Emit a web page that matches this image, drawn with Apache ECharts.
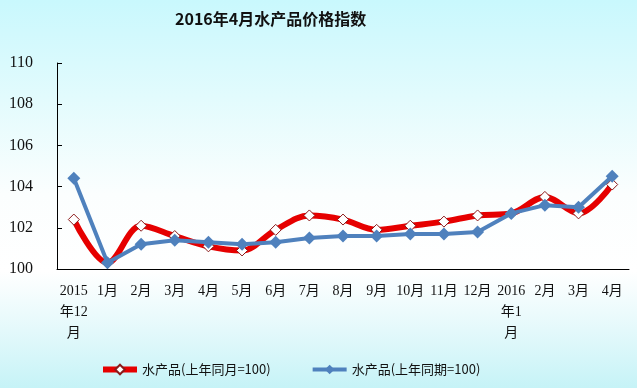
<!DOCTYPE html>
<html><head><meta charset="utf-8">
<script src="https://cdn.jsdelivr.net/npm/echarts@6/dist/echarts.min.js"></script>
<style>html,body{margin:0;padding:0;}#c{width:637px;height:388px;}</style>
</head><body><div id="c"></div>
<script>
var title = '2016年4月水产品价格指数';
var categories = ['2015\n年12\n月','1月','2月','3月','4月','5月','6月','7月','8月','9月','10月','11月','12月','2016\n年1\n月','2月','3月','4月'];
var seriesNames = ['水产品(上年同月=100)','水产品(上年同期=100)'];
var sameMonth = [102.4,100.3,102.1,101.6,101.1,100.9,101.9,102.6,102.4,101.9,102.1,102.3,102.6,102.7,103.5,102.7,104.1];
var samePeriod = [104.4,100.3,101.2,101.4,101.3,101.2,101.3,101.5,101.6,101.6,101.7,101.7,101.8,102.7,103.1,103.0,104.5];
var yTicks = {min:100, max:110, interval:2};

var chart = echarts.init(document.getElementById('c'), null, {renderer:'canvas'});
chart.setOption({
  animation:false,
  backgroundColor:{type:'linear',x:0,y:0,x2:0,y2:1,colorStops:[
    {offset:0,color:'#c9f8fd'},{offset:0.25,color:'#e2fbfd'},{offset:0.5,color:'#fbfefe'},
    {offset:0.7,color:'#ffffff'},{offset:0.85,color:'#e4f9fb'},{offset:1,color:'#c6f3f7'}]},
  title:{text:title,left:170,top:6,textStyle:{fontFamily:'Noto Sans CJK SC',fontWeight:'bold',fontSize:16,color:'#111'}},
  grid:{left:57,right:8,top:63,bottom:119,containLabel:false},
  legend:{bottom:7,left:95,itemGap:40,itemWidth:34,itemHeight:12,
    textStyle:{fontFamily:'Noto Sans CJK SC',fontSize:13,color:'#111'},
    data:[{name:seriesNames[0],lineStyle:{width:6,color:'#e60000'}},{name:seriesNames[1],lineStyle:{width:4,color:'#4f81bd'}}]},
  xAxis:{type:'category',data:categories,boundaryGap:true,
    axisLine:{lineStyle:{color:'#000',width:1}},
    axisTick:{inside:true,length:5,lineStyle:{color:'#000'}},
    axisLabel:{interval:0,margin:12,fontFamily:'Liberation Serif, Noto Sans CJK SC',fontSize:14,color:'#111',lineHeight:21,verticalAlign:'top'}},
  yAxis:{type:'value',min:yTicks.min,max:yTicks.max,interval:yTicks.interval,
    axisLine:{show:true,lineStyle:{color:'#000',width:1}},
    axisTick:{show:true,inside:true,length:5,lineStyle:{color:'#000'}},
    splitLine:{show:false},
    axisLabel:{margin:24,fontFamily:'Liberation Serif',fontSize:16,color:'#111'}},
  series:[
    {name:seriesNames[0],type:'line',data:sameMonth,smooth:0.35,z:2,
     lineStyle:{color:'#e60000',width:6},itemStyle:{color:'#ffffff',borderColor:'#8b1a1a',borderWidth:1},
     symbol:'diamond',symbolSize:11,color:'#e60000'},
    {name:seriesNames[1],type:'line',data:samePeriod,smooth:false,z:3,
     lineStyle:{color:'#4f81bd',width:4},itemStyle:{color:'#4f81bd'},
     symbol:'diamond',symbolSize:13,color:'#4f81bd'}
  ]
});
</script></body></html>
